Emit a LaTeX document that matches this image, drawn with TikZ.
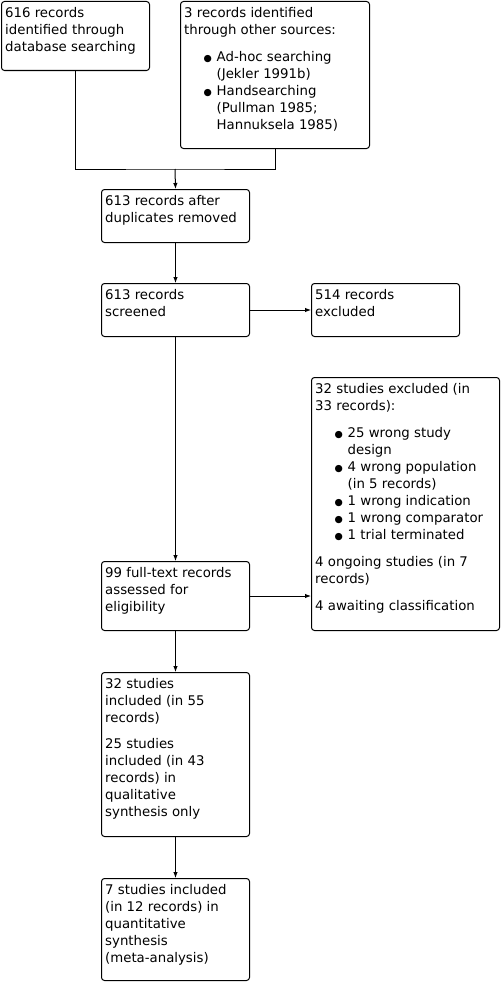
\documentclass[tikz,border=0pt]{standalone}
\usepackage{fontspec}
\setmainfont{DejaVu Sans}
\usetikzlibrary{arrows.meta}

\newcommand{\blt}{{\fontsize{9.5}{9.5}\selectfont ●}}
\newcommand{\itm}{\hspace*{23.5pt}\makebox[0pt]{\blt}\hspace*{9pt}}
\newcommand{\cont}{\hspace*{32.5pt}}

\begin{document}
\begin{tikzpicture}[x=1pt,y=-1pt,
  box/.style={draw, line width=1pt, rounded corners=3pt, anchor=north west, inner sep=0pt},
  txt/.style={anchor=north west, align=left, inner xsep=4pt, inner ysep=6pt,
              font=\fontsize{13.3}{17}\selectfont},
  line/.style={line width=1pt},
  arr/.style={line width=1pt, -{Latex[length=6pt,width=4.5pt]}}]

\useasboundingbox (0,0) rectangle (501,982);

%% identification
\node[box, minimum width=148, minimum height=69, label={[txt]north west:{616 records\\
  identified through\\ database searching}}] (db) at (1,1) {};
\node[box, minimum width=189, minimum height=147, label={[txt]north west:{3 records identified\\
  through other sources:\\[10pt]
  \itm Ad-hoc searching\\
  \cont (Jekler 1991b)\\
  \itm Handsearching\\
  \cont (Pullman 1985;\\
  \cont Hannuksela 1985)}}] (other) at (180,1) {};

%% screening
\node[box, minimum width=148, minimum height=53, label={[txt]north west:{613 records after\\
  duplicates removed}}] (dedup) at (101,189) {};
\node[box, minimum width=148, minimum height=53, label={[txt]north west:{613 records\\
  screened}}] (screen) at (101,283) {};
\node[box, minimum width=148, minimum height=53, label={[txt]north west:{514 records\\
  excluded}}] (excl) at (311,283) {};

%% eligibility
\node[box, minimum width=148, minimum height=69, label={[txt]north west:{99 full-text records\\
  assessed for\\ eligibility}}] (fulltext) at (101,561) {};
\node[box, minimum width=188, minimum height=253, label={[txt]north west:{32 studies excluded (in\\
  33 records):\\[10pt]
  \itm 25 wrong study\\
  \cont design\\
  \itm 4 wrong population\\
  \cont (in 5 records)\\
  \itm 1 wrong indication\\
  \itm 1 wrong comparator\\
  \itm 1 trial terminated\\[10pt]
  4 ongoing studies (in 7\\
  records)\\[10pt]
  4 awaiting classification}}] (ftexcl) at (311,377) {};

%% included
\node[box, minimum width=148, minimum height=164, label={[txt]north west:{32 studies\\
  included (in 55\\ records)\\[9pt]
  25 studies\\ included (in 43\\ records) in\\ qualitative\\ synthesis only}}] (qual) at (101,672) {};
\node[box, minimum width=148, minimum height=102, label={[txt]north west:{7 studies included\\
  (in 12 records) in\\ quantitative\\ synthesis\\ (meta-analysis)}}] (quant) at (101,878) {};

%% connectors
\coordinate (join) at (175,169);
\draw[line] (db.south) |- (join) -| (other.south);
\draw[arr] (join) -- (dedup.north);
\draw[arr] (dedup.south) -- (screen.north);
\draw[arr] (screen.east) -- (excl.west);
\draw[arr] (screen.south) -- (fulltext.north);
\draw[arr] (fulltext.east) -- (fulltext.east -| ftexcl.west);
\draw[arr] (fulltext.south) -- (qual.north);
\draw[arr] (qual.south) -- (quant.north);
\end{tikzpicture}
\end{document}
